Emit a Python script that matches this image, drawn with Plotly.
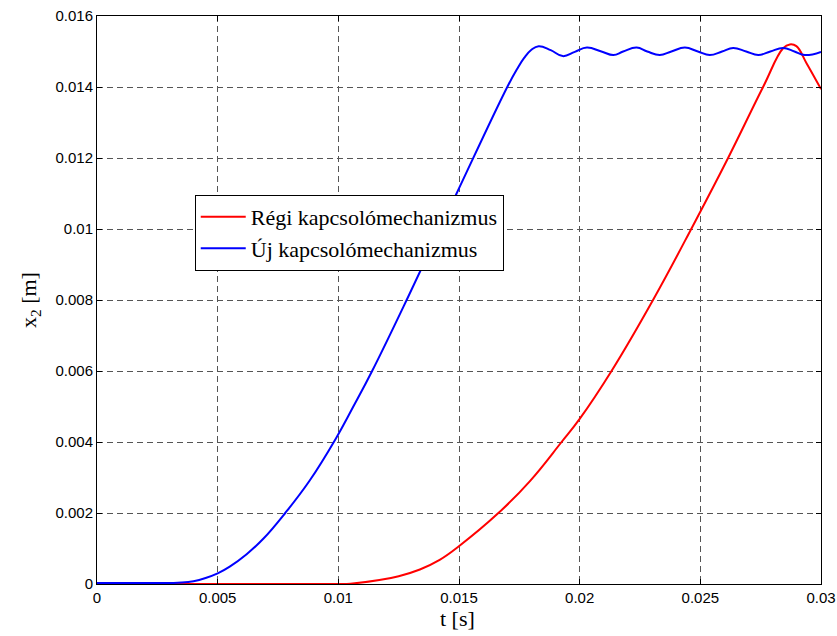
import plotly.graph_objects as go

# Blue: "Új kapcsolómechanizmus"
t_new = [0.0, 0.0030, 0.0035, 0.0040, 0.0045, 0.0050, 0.0055, 0.0062, 0.0069, 0.0078,
         0.0088, 0.0099, 0.0106, 0.0114, 0.0129, 0.0149, 0.0170, 0.0174, 0.0177, 0.0180, 0.0183,
         0.0188, 0.0193, 0.0198, 0.0203, 0.0209, 0.0214, 0.0218,
         0.02236, 0.0228, 0.02332, 0.0238, 0.02436, 0.0249, 0.02539, 0.0259, 0.02636, 0.0269,
         0.0274, 0.0279, 0.02843, 0.0289, 0.02933, 0.0300]
x_new = [0.00003, 0.00003, 0.00004, 0.00008, 0.00017, 0.0003, 0.00049, 0.00084, 0.00128, 0.0020,
         0.0029, 0.0041, 0.00497, 0.0060, 0.0081, 0.0110, 0.0140, 0.0145, 0.01482, 0.01505, 0.01515,
         0.01504, 0.01487, 0.01499, 0.01511, 0.01500, 0.0149, 0.01500,
         0.01511, 0.01500, 0.0149, 0.01500, 0.01511, 0.01500, 0.0149, 0.01500, 0.0151, 0.01500,
         0.0149, 0.01500, 0.0151, 0.01500, 0.0149, 0.01499]

# Red: "Régi kapcsolómechanizmus"
t_old = [0.0, 0.0100, 0.0105, 0.0117, 0.0125, 0.01338, 0.0142, 0.01497, 0.01662, 0.01794, 0.01925,
         0.0200, 0.02132, 0.02304, 0.0247, 0.02615, 0.0276, 0.02843, 0.02871, 0.02898,
         0.0294, 0.0300]
x_old = [0.0, 0.0, 0.00001, 0.00011, 0.00022, 0.00041, 0.00068, 0.00105, 0.00199, 0.0029, 0.004,
         0.00465, 0.006, 0.008, 0.0101, 0.012, 0.014, 0.01509, 0.0152, 0.01515,
         0.01467, 0.01394]

x_ticks = [0, 0.005, 0.01, 0.015, 0.02, 0.025, 0.03]
x_labels = ["0", "0.005", "0.01", "0.015", "0.02", "0.025", "0.03"]
y_ticks = [0, 0.002, 0.004, 0.006, 0.008, 0.01, 0.012, 0.014, 0.016]
y_labels = ["0", "0.002", "0.004", "0.006", "0.008", "0.01", "0.012", "0.014", "0.016"]

fig = go.Figure()
fig.add_trace(go.Scatter(x=t_old, y=x_old, mode="lines", name="Régi kapcsolómechanizmus",
                         line=dict(color="#ff0000", width=2, shape="spline", smoothing=1.2)))
fig.add_trace(go.Scatter(x=t_new, y=x_new, mode="lines", name="Új kapcsolómechanizmus",
                         line=dict(color="#0000ff", width=2, shape="spline", smoothing=1.2)))

axis_common = dict(
    showline=True, linecolor="black", linewidth=1, mirror="ticks",
    ticks="inside", ticklen=5, tickcolor="black",
    showgrid=True, gridcolor="#555555", gridwidth=1, griddash="6px,4px",
    zeroline=False, automargin=False,
    tickfont=dict(family="Liberation Sans, Arial, sans-serif", size=15, color="black"),
)

fig.update_xaxes(range=[0, 0.03], tickvals=x_ticks, ticktext=x_labels, **axis_common)
fig.update_yaxes(range=[0, 0.016], tickvals=y_ticks, ticktext=y_labels, **axis_common)

serif = "Liberation Serif, Times New Roman, serif"
fig.update_layout(
    width=837, height=636,
    margin=dict(l=97, r=16, t=16, b=52),
    paper_bgcolor="white", plot_bgcolor="white",
    showlegend=True,
    legend=dict(x=0.135, y=0.685, xanchor="left", yanchor="top",
                bgcolor="white", bordercolor="black", borderwidth=1,
                font=dict(family=serif, size=22, color="black"),
                tracegroupgap=0, itemwidth=45),
    annotations=[
        dict(text="t [s]", xref="paper", yref="paper", x=0.4986, y=-0.06,
             xanchor="center", yanchor="middle", showarrow=False,
             font=dict(family=serif, size=22, color="black")),
        dict(text="x<sub>2</sub> [m]", xref="paper", yref="paper", x=-0.0925, y=0.5,
             xanchor="center", yanchor="middle", showarrow=False, textangle=-90,
             font=dict(family=serif, size=22, color="black")),
    ],
)

fig.write_html("out.html", config={"displayModeBar": False},
               post_script="document.body.style.margin='0';")
